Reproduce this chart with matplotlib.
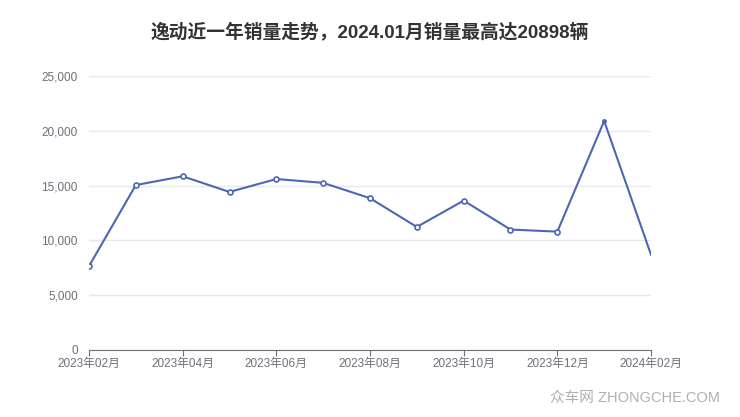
import numpy as np
import matplotlib.pyplot as plt
from matplotlib.ticker import FuncFormatter

plt.rcParams['font.family'] = ['Liberation Sans', 'Noto Sans CJK SC', 'DejaVu Sans']

# monthly sales, 2023-02 .. 2024-02
months = ['2023年02月', '2023年03月', '2023年04月', '2023年05月', '2023年06月',
          '2023年07月', '2023年08月', '2023年09月', '2023年10月', '2023年11月',
          '2023年12月', '2024年01月', '2024年02月']
sales = [7650, 15050, 15850, 14420, 15600, 15250, 13850, 11230, 13630, 10990,
         10800, 20898, 8700]
yticks = [0, 5000, 10000, 15000, 20000, 25000]

title = '逸动近一年销量走势，2024.01月销量最高达20898辆'
lineColor = '#4d67b1'
gridColor = '#e6e9f0'
textColor = '#6e7079'

fig = plt.figure(figsize=(7.4, 4.17), dpi=100)
ax = fig.add_axes([89 / 740, 67 / 417, 562 / 740, 274 / 417])

x = np.arange(len(months))
ax.plot(x, sales, color=lineColor, lw=1.5, zorder=3)
# hollow markers (echarts hides the last symbol, peak drawn small)
ax.plot(x[:-2], sales[:-2], ls='none', marker='o', ms=3.6, mfc='white',
        mec=lineColor, mew=1.2, zorder=4)
ax.plot(x[-2], sales[-2], ls='none', marker='o', ms=2.5, mfc=lineColor,
        mec=lineColor, zorder=4)

ax.set_xlim(0, len(months) - 1)
ax.set_ylim(0, 25000)
ax.set_yticks(yticks)
ax.yaxis.set_major_formatter(FuncFormatter(lambda v, p: f'{int(v):,}'))
ax.set_xticks(x[::2])
ax.set_xticklabels(months[::2])

ax.grid(axis='y', color=gridColor, lw=1)
ax.set_axisbelow(True)
for s in ['top', 'right', 'left']:
    ax.spines[s].set_visible(False)
ax.spines['bottom'].set_color(textColor)
ax.tick_params(axis='y', length=0, pad=8, labelsize=8.5, labelcolor=textColor)
ax.tick_params(axis='x', length=4, color=textColor, pad=2, labelsize=8.5,
               labelcolor=textColor)

fig.text(0.5, 1 - 32 / 417, title, ha='center', va='center', fontsize=13.5,
         fontweight='bold', color='#333333')
fig.text(720 / 740, 1 - 398 / 417, '众车网 ZHONGCHE.COM', ha='right',
         va='center', fontsize=10.5, color='#b0b0b0')

fig.savefig('out.png', dpi=100)
